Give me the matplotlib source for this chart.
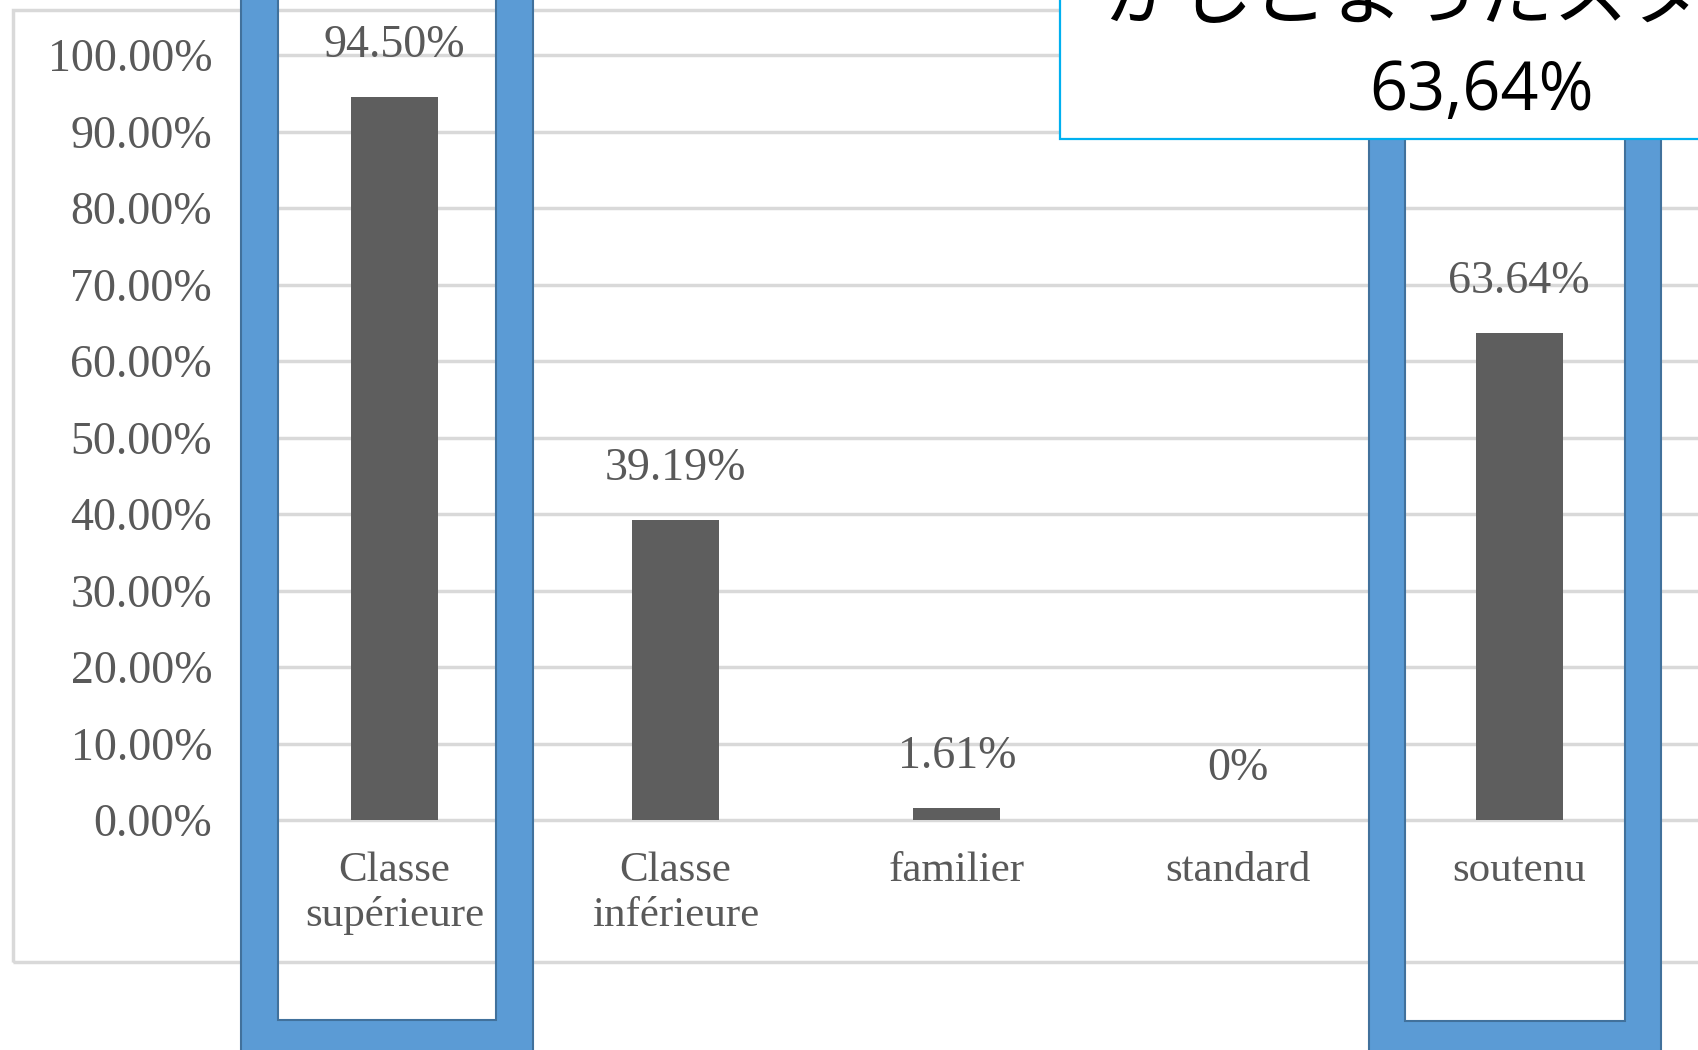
import matplotlib.pyplot as plt
import matplotlib.patches as mpatches
from matplotlib.path import Path

# data
categories = ['Classe\nsupérieure', 'Classe\ninférieure', 'familier', 'standard', 'soutenu']
values = [94.50, 39.19, 1.61, 0.0, 63.64]
value_labels = ['94.50%', '39.19%', '1.61%', '0%', '63.64%']
y_ticks = [0, 10, 20, 30, 40, 50, 60, 70, 80, 90, 100]
callout_lines = ['かしこまったスタイル', '63,64%']

W, H = 1699, 1050
GRAY_TXT = '#595959'
GRID = '#d9d9d9'
BLUE = '#5b9bd5'
BLUE_EDGE = '#41719c'

fig = plt.figure(figsize=(W / 100, H / 100), dpi=100)
fig.patch.set_facecolor('white')


def fx(x):
    return x / W


def fy(y):
    return 1 - y / H


# outer chart border (light gray)
fig.add_artist(mpatches.Rectangle((fx(13), fy(962)), fx(W + 50) - fx(13), fy(10) - fy(962),
                                  transform=fig.transFigure, fill=False, edgecolor=GRID,
                                  linewidth=2.5, zorder=0))

# plot area
left, right, top, bottom = 253.8, W, 55, 820
slot = 281.2
ax = fig.add_axes([fx(left), fy(bottom), fx(right) - fx(left), fy(top) - fy(bottom)])
ax.set_facecolor('none')
ax.set_xlim(-0.5, (right - left) / slot - 0.5)
ax.set_ylim(0, 100)

for t in y_ticks:
    ax.axhline(t, color=GRID, linewidth=2.5, zorder=1, clip_on=False)

xs = list(range(len(categories)))
ax.bar(xs, values, width=0.31, color='#5e5e5e', zorder=2)

for x, v, lab in zip(xs, values, value_labels):
    ax.annotate(lab, (x, v), xytext=(0, 37), textcoords='offset points',
                ha='center', va='center', fontsize=33, family='Liberation Serif',
                color=GRAY_TXT)

ax.set_yticks(y_ticks)
ax.set_yticklabels(['%.2f%%' % t for t in y_ticks], family='Liberation Serif',
                   fontsize=33, color=GRAY_TXT)
ax.set_xticks(xs)
ax.set_xticklabels(categories, family='Liberation Serif', fontsize=31, color=GRAY_TXT)
ax.tick_params(axis='y', length=0, pad=30)
ax.tick_params(axis='x', length=0, pad=23)
for s in ax.spines.values():
    s.set_visible(False)


# thick blue highlight frames (drawn as a ring: outer box minus inner box)
def frame(ol, orr, ot, ob, thick):
    il, ir, it, ib = ol + thick, orr - thick, ot + thick, ob - thick
    verts = [(fx(ol), fy(ot)), (fx(orr), fy(ot)), (fx(orr), fy(ob)), (fx(ol), fy(ob)), (0, 0),
             (fx(il), fy(it)), (fx(il), fy(ib)), (fx(ir), fy(ib)), (fx(ir), fy(it)), (0, 0)]
    codes = [Path.MOVETO, Path.LINETO, Path.LINETO, Path.LINETO, Path.CLOSEPOLY] * 2
    fig.add_artist(mpatches.PathPatch(Path(verts, codes), transform=fig.transFigure,
                                      facecolor=BLUE, edgecolor=BLUE_EDGE, linewidth=1.5,
                                      zorder=5))


frame(240.6, 533.5, -60, 1057, 37.5)
frame(1368.6, 1661.5, -60, 1057, 36.5)

# callout box in the top right corner
fig.add_artist(mpatches.Rectangle((fx(1060), fy(138.5)), fx(W + 50) - fx(1060), fy(-50) - fy(138.5),
                                  transform=fig.transFigure, facecolor='white',
                                  edgecolor='#00b0f0', linewidth=1.6, zorder=6))
fig.text(fx(1478), fy(19), callout_lines[0], ha='center', va='baseline', fontsize=54,
         family=['Noto Sans CJK JP', 'DejaVu Sans'], color='black', zorder=7)
fig.text(fx(1482), fy(84), callout_lines[1], ha='center', va='center_baseline', fontsize=48,
         family='Open Sans', color='black', zorder=7)

fig.savefig('out.png', dpi=100, facecolor='white')
